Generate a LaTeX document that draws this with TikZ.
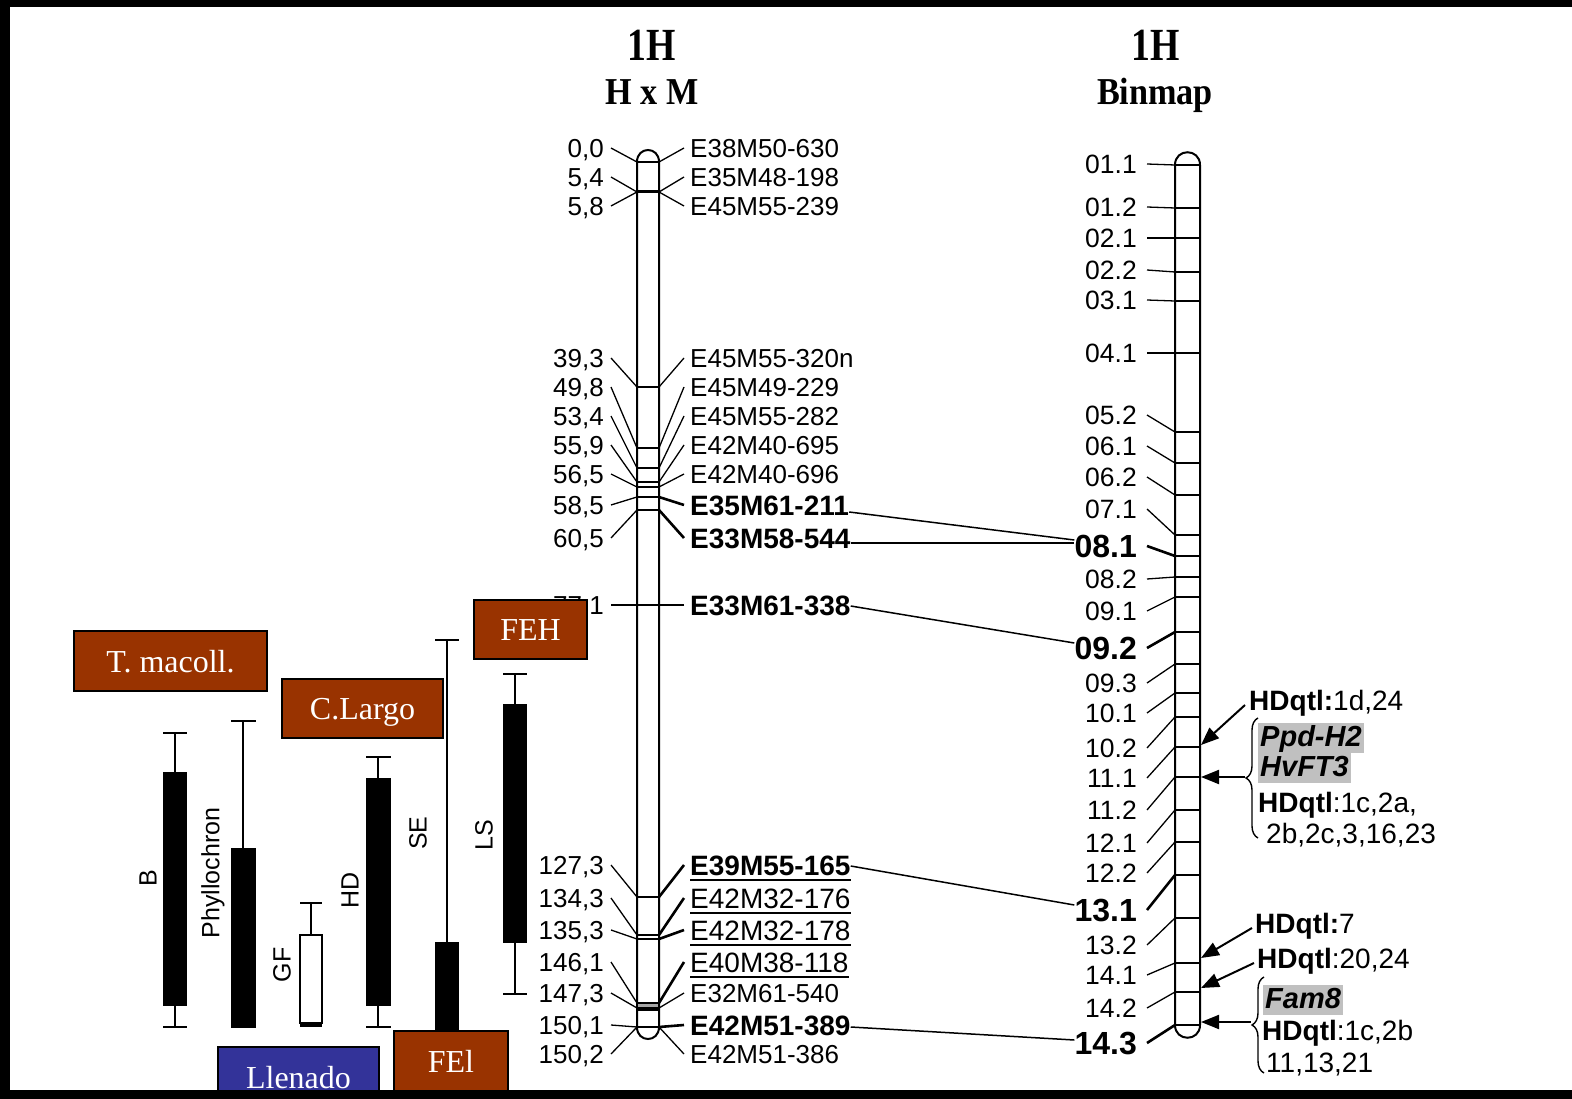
\documentclass[tikz,border=0pt]{standalone}
\usepackage{fontspec}
\setmainfont{Liberation Serif}
\setsansfont{Liberation Sans}
\usetikzlibrary{arrows.meta,decorations.pathreplacing}
\definecolor{brick}{RGB}{153,51,0}
\definecolor{navyb}{RGB}{51,51,153}
\definecolor{hlgray}{RGB}{192,192,192}
\newcommand\myfs[1]{\fontsize{#1pt}{#1pt}\selectfont}
% left map: index, number, marker, label y, band y, marker style, left tick style, right tick style
\newcommand\lpair[8]{%
  \node[numlab] (n#1) at (604,#4) {#2};
  \node[#6] (m#1) at (690,#4) {#3};
  \coordinate (bl#1) at (637,#5);
  \coordinate (br#1) at (659,#5);
  \draw[#7] ([xshift=7pt]n#1.east) -- (bl#1);
  \draw[#8] ([xshift=-6pt]m#1.west) -- (br#1);
  \draw[band] (bl#1) -- (br#1);
}
% binmap: index, label, label y, band y, label style, tick style
\newcommand\bpair[6]{%
  \node[#5] (b#1) at (1137,#3) {#2};
  \coordinate (c#1) at (1175,#4);
  \coordinate (d#1) at (1200,#4);
  \draw[#6] ([xshift=10pt]b#1.east) -- (c#1);
  \draw[band] (c#1) -- (d#1);
}
\begin{document}
\begin{tikzpicture}[x=1pt,y=-1pt,
  numlab/.style={font=\sffamily\myfs{26},inner sep=0pt,text height=19pt,text depth=0pt,anchor=east},
  mk/.style={font=\sffamily\myfs{26},inner sep=0pt,text height=19pt,text depth=0pt,anchor=west},
  mkb/.style={mk,font=\sffamily\bfseries\myfs{28},text height=20pt},
  mku/.style={mk,font=\sffamily\myfs{28},text height=20pt},
  binlab/.style={font=\sffamily\myfs{26.5},inner sep=0pt,text height=19pt,text depth=0pt,anchor=east},
  binb/.style={binlab,font=\sffamily\bfseries\myfs{32},text height=23pt},
  tick/.style={line width=1.3pt},
  tickb/.style={line width=2.6pt},
  band/.style={line width=1.5pt},
  chrom/.style={line width=2pt,fill=white},
  link/.style={line width=1.5pt},
  ann/.style={font=\sffamily\myfs{28},inner sep=0pt,text height=20pt,text depth=0pt,anchor=west},
  gene/.style={ann,font=\sffamily\bfseries\itshape\myfs{29},fill=hlgray,inner xsep=2pt,inner ysep=0pt,text height=23pt,text depth=7pt},
  arr/.style={line width=2pt,-{Triangle[length=18pt,width=14pt]}},
  brc/.style={line width=1.4pt,decorate,decoration={brace,amplitude=12pt}},
  ttl/.style={inner sep=0pt},
  qbox/.style={draw=black,line width=2pt,fill=brick,text=white,font=\rmfamily\myfs{32},inner sep=0pt,text height=22pt,text depth=0pt},
  ebar/.style={line width=2pt},
  trait/.style={font=\sffamily\myfs{25},inner sep=0pt,rotate=90}]
\useasboundingbox (0,0) rectangle (1572,1099);
\fill[white] (0,0) rectangle (1572,1099);

% titles
\node[ttl,font=\rmfamily\bfseries\myfs{46},xscale=.82] (t1) at (652,45) {1H};
\node[ttl,font=\rmfamily\bfseries\myfs{38},xscale=.9] (t2) at (652,92) {H x M};
\node[ttl,font=\rmfamily\bfseries\myfs{46},xscale=.82] (t3) at (1156,45) {1H};
\node[ttl,font=\rmfamily\bfseries\myfs{38},xscale=.9,anchor=base] (t4) at (1155,105) {Binmap};

% chromosomes
\draw[chrom] (637,162) -- (637,1027) .. controls (637,1043) and (659,1043) .. (659,1027) -- (659,162) .. controls (659,146) and (637,146) .. (637,162) -- cycle;
\draw[chrom] (1175,165) -- (1175,1025) .. controls (1175,1042) and (1200,1042) .. (1200,1025) -- (1200,165) .. controls (1200,148) and (1175,148) .. (1175,165) -- cycle;
\draw[line width=3pt] (637,192) -- (659,192);
\filldraw[fill=gray!70,line width=1.2pt] (637,1003) rectangle (659,1010);
\draw[line width=1.2pt] (637,935) -- (659,935);

% left map
\lpair{1}{0,0}{E38M50-630}{148}{162}{mk}{tick}{tick}
\lpair{2}{5,4}{E35M48-198}{177}{192}{mk}{tick}{tick}
\lpair{3}{5,8}{E45M55-239}{206}{192}{mk}{tick}{tick}
\lpair{4}{39,3}{E45M55-320n}{358}{387}{mk}{tick}{tick}
\lpair{5}{49,8}{E45M49-229}{387}{448}{mk}{tick}{tick}
\lpair{6}{53,4}{E45M55-282}{416}{468}{mk}{tick}{tick}
\lpair{7}{55,9}{E42M40-695}{445}{482}{mk}{tick}{tick}
\lpair{8}{56,5}{E42M40-696}{474}{487}{mk}{tick}{tick}
\lpair{9}{58,5}{E35M61-211}{505}{497}{mkb}{tick}{tickb}
\lpair{10}{60,5}{E33M58-544}{538}{510}{mkb}{tick}{tickb}
\lpair{11}{77,1}{E33M61-338}{605}{605}{mkb}{tick}{tick}
\lpair{12}{127,3}{E39M55-165}{865}{897}{mkb}{tick}{tickb}
\lpair{13}{134,3}{E42M32-176}{898}{935}{mku}{tick}{tickb}
\lpair{14}{135,3}{E42M32-178}{930}{939}{mku}{tick}{tickb}
\lpair{15}{146,1}{E40M38-118}{962}{1003}{mku}{tick}{tickb}
\lpair{16}{147,3}{E32M61-540}{993}{1008}{mk}{tick}{tick}
\lpair{17}{150,1}{E42M51-389}{1025}{1027}{mkb}{tick}{tickb}
\lpair{18}{150,2}{E42M51-386}{1054}{1027}{mk}{tick}{tick}
\foreach \i in {12,13,14,15}
  \draw[line width=1.5pt] ([yshift=-5pt]m\i.base west) -- ([yshift=-5pt]m\i.base east);

% binmap
\bpair{1}{01.1}{164}{165}{binlab}{tick}
\bpair{2}{01.2}{207}{208}{binlab}{tick}
\bpair{3}{02.1}{238}{238}{binlab}{tick}
\bpair{4}{02.2}{270}{272}{binlab}{tick}
\bpair{5}{03.1}{300}{301}{binlab}{tick}
\bpair{6}{04.1}{353}{353}{binlab}{tick}
\bpair{7}{05.2}{415}{432}{binlab}{tick}
\bpair{8}{06.1}{446}{463}{binlab}{tick}
\bpair{9}{06.2}{477}{495}{binlab}{tick}
\bpair{10}{07.1}{509}{535}{binlab}{tick}
\bpair{11}{08.1}{546}{556}{binb}{tickb}
\bpair{12}{08.2}{579}{577}{binlab}{tick}
\bpair{13}{09.1}{611}{597}{binlab}{tick}
\bpair{14}{09.2}{648}{632}{binb}{tickb}
\bpair{15}{09.3}{683}{664}{binlab}{tick}
\bpair{16}{10.1}{713}{693}{binlab}{tick}
\bpair{17}{10.2}{748}{717}{binlab}{tick}
\bpair{18}{11.1}{778}{747}{binlab}{tick}
\bpair{19}{11.2}{810}{777}{binlab}{tick}
\bpair{20}{12.1}{843}{810}{binlab}{tick}
\bpair{21}{12.2}{873}{842}{binlab}{tick}
\bpair{22}{13.1}{910}{875}{binb}{tickb}
\bpair{23}{13.2}{945}{918}{binlab}{tick}
\bpair{24}{14.1}{975}{963}{binlab}{tick}
\bpair{25}{14.2}{1008}{992}{binlab}{tick}
\bpair{26}{14.3}{1043}{1025}{binb}{tickb}

% links between maps
\draw[link] ([yshift=-7pt]m9.east) -- ([yshift=6pt]b11.west);
\draw[link] ([yshift=-5pt]m10.east) -- ([yshift=3pt]b11.west);
\draw[link] ([yshift=-1pt]m11.east) -- ([yshift=5pt]b14.west);
\draw[link] ([yshift=-1pt]m12.east) -- ([yshift=5pt]b22.west);
\draw[link] ([yshift=-2pt]m17.east) -- ([yshift=3pt]b26.west);

% annotations
\node[ann] (q1) at (1249,700) {\textbf{HDqtl:}1d,24};
\coordinate (a1) at (1201,745);
\draw[arr] ([shift={(-4pt,-5pt)}]q1.west) -- (a1);
\draw[brc] (1258,838) -- (1258,718);
\coordinate (k1) at (1245,777);
\coordinate (a2) at (1201,777);
\draw[arr] (k1) -- (a2);
\node[gene] (g1) at (1258,738) {Ppd-H2};
\node[gene] (g2) at (1258,768) {HvFT3};
\node[ann] (q2) at (1258,802) {\textbf{HDqtl}:1c,2a,};
\node[ann] (q3) at (1266,833) {2b,2c,3,16,23};
\node[ann] (q4) at (1255,923) {\textbf{HDqtl:}7};
\coordinate (a3) at (1201,958);
\draw[arr] ([shift={(-3pt,-5pt)}]q4.west) -- (a3);
\node[ann] (q5) at (1257,958) {\textbf{HDqtl}:20,24};
\coordinate (a4) at (1201,988);
\draw[arr] ([shift={(-3pt,-5pt)}]q5.west) -- (a4);
\draw[brc] (1264,1073) -- (1264,977);
\coordinate (k2) at (1251,1022);
\coordinate (a5) at (1201,1022);
\draw[arr] (k2) -- (a5);
\node[gene] (g3) at (1263,1000) {Fam8};
\node[ann] (q6) at (1262,1030) {\textbf{HDqtl}:1c,2b};
\node[ann] (q7) at (1266,1062) {11,13,21};

% QTL bars
\draw[ebar] (175,733) -- (175,1027) (163,733) -- (187,733) (163,1027) -- (187,1027);
\fill (163,772) rectangle (187,1006);
\draw[ebar] (243,721) -- (243,848) (231,721) -- (256,721);
\fill (231,848) rectangle (256,1028);
\draw[ebar] (311,903) -- (311,935) (300,903) -- (322,903);
\draw[line width=2pt,fill=white] (300,935) rectangle (322,1023);
\draw[line width=3pt] (300,1025) -- (322,1025);
\draw[ebar] (378,757) -- (378,1027) (366,757) -- (391,757) (366,1027) -- (391,1027);
\fill (366,778) rectangle (391,1006);
\draw[ebar] (447,640) -- (447,942) (435,640) -- (459,640);
\fill (435,942) rectangle (459,1031);
\draw[ebar] (515,674) -- (515,994) (503,674) -- (527,674) (503,994) -- (527,994);
\fill (503,704) rectangle (527,943);
\node[trait] (lB) at (148,878) {B};
\node[trait] (lP) at (213,873) {Phyllochron};
\node[trait] (lG) at (282,965) {GF};
\node[trait] (lH) at (350,890) {HD};
\node[trait] (lS) at (418,833) {SE};
\node[trait] (lL) at (484,835) {LS};

% boxes
\node[qbox,minimum width=193pt,minimum height=60pt] (bx1) at (170.5,661) {T. macoll.};
\node[qbox,minimum width=161pt,minimum height=59pt] (bx2) at (362.5,708.5) {C.Largo};
\node[qbox,minimum width=113pt,minimum height=59pt] (bx3) at (530.5,629.5) {FEH};
\node[qbox,fill=navyb,minimum width=161pt,minimum height=60pt] (bx4) at (298.5,1077) {Llenado};
\node[qbox,minimum width=114pt,minimum height=60pt] (bx5) at (451,1061) {FEl};

% frame
\fill[black] (0,0) rectangle (1572,7);
\fill[black] (0,0) rectangle (10,1099);
\fill[black] (0,1090) rectangle (1572,1099);
\end{tikzpicture}
\end{document}
